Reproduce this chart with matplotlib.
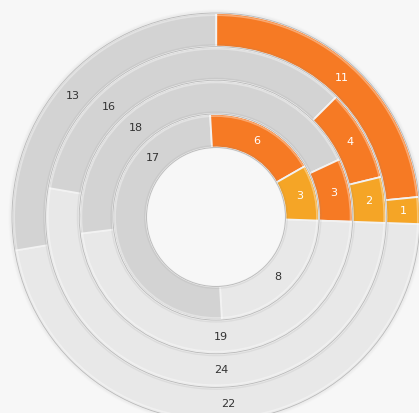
import matplotlib as mpl
import matplotlib.pyplot as plt
import numpy as np

mpl.use("Agg")

# ring data, inner ring first; clockwise order from 3 o'clock: light, gray, orange, yellow
light = [8, 19, 24, 22]
gray = [17, 18, 16, 13]
orange = [6, 3, 4, 11]
yellow = [3, 0, 2, 1]

COLORS = ["#E8E8E8", "#D3D3D3", "#F67A24", "#F5A526"]
TEXT_COLORS = ["#333333", "#333333", "#FFFFFF", "#FFFFFF"]
BG = "#F7F7F7"

# label angle overrides (degrees) where labels were moved off the wedge centre
label_angle_override = {(0, 1): 137, (1, 1): 132, (2, 1): 134, (2, 0): -88}

W, H = 419, 413
cx, cy = 216, H - 217
R_OUT = 204
R_IN = 69.5
ring_w = (R_OUT - R_IN) / 4
start = -2

fig = plt.figure(figsize=(W / 100, H / 100), dpi=100, facecolor=BG)
ax = fig.add_axes([0, 0, 1, 1])
ax.set_facecolor(BG)

# soft shadow around the outside
for k, a in enumerate([0.10, 0.06, 0.03]):
    ax.add_patch(
        mpl.patches.Circle((cx, cy), R_OUT + 0.8 + k, fill=False,
                           edgecolor="#9A9A9A", linewidth=1.0, alpha=a)
    )

for i in range(4):
    vals = [light[i], gray[i], orange[i], yellow[i]]
    r = R_IN + ring_w * (i + 1)
    ax.pie(
        vals,
        colors=COLORS,
        radius=r,
        center=(cx, cy),
        startangle=start,
        counterclock=False,
        wedgeprops=dict(width=ring_w, edgecolor="#F2F2F2", linewidth=1.3),
    )
    # bevel: light highlight near the outer edge, faint shadow at the inner edge
    ax.add_patch(mpl.patches.Circle((cx, cy), r - 2.2, fill=False,
                                    edgecolor="white", linewidth=1.2, alpha=0.35))
    ax.add_patch(mpl.patches.Circle((cx, cy), r - ring_w + 1.8, fill=False,
                                    edgecolor="#888888", linewidth=1.0, alpha=0.12))
    total = sum(vals)
    cum = 0
    r_mid = r - ring_w / 2
    for j, v in enumerate(vals):
        if v > 0:
            ang = start - 360 * (cum + v / 2) / total
            ang = label_angle_override.get((i, j), ang)
            a = np.radians(ang)
            ax.text(
                cx + r_mid * np.cos(a),
                cy + r_mid * np.sin(a),
                str(v),
                ha="center",
                va="center",
                fontsize=8,
                color=TEXT_COLORS[j],
                family="DejaVu Sans",
            )
        cum += v

# thin outlines at ring boundaries
for k in range(5):
    ax.add_patch(
        mpl.patches.Circle(
            (cx, cy), R_IN + ring_w * k, fill=False, edgecolor="#BDBDBD", linewidth=0.7
        )
    )

ax.set_xlim(0, W)
ax.set_ylim(0, H)
ax.set_aspect("equal")
ax.axis("off")

fig.savefig("out.png", dpi=100, facecolor=BG)
